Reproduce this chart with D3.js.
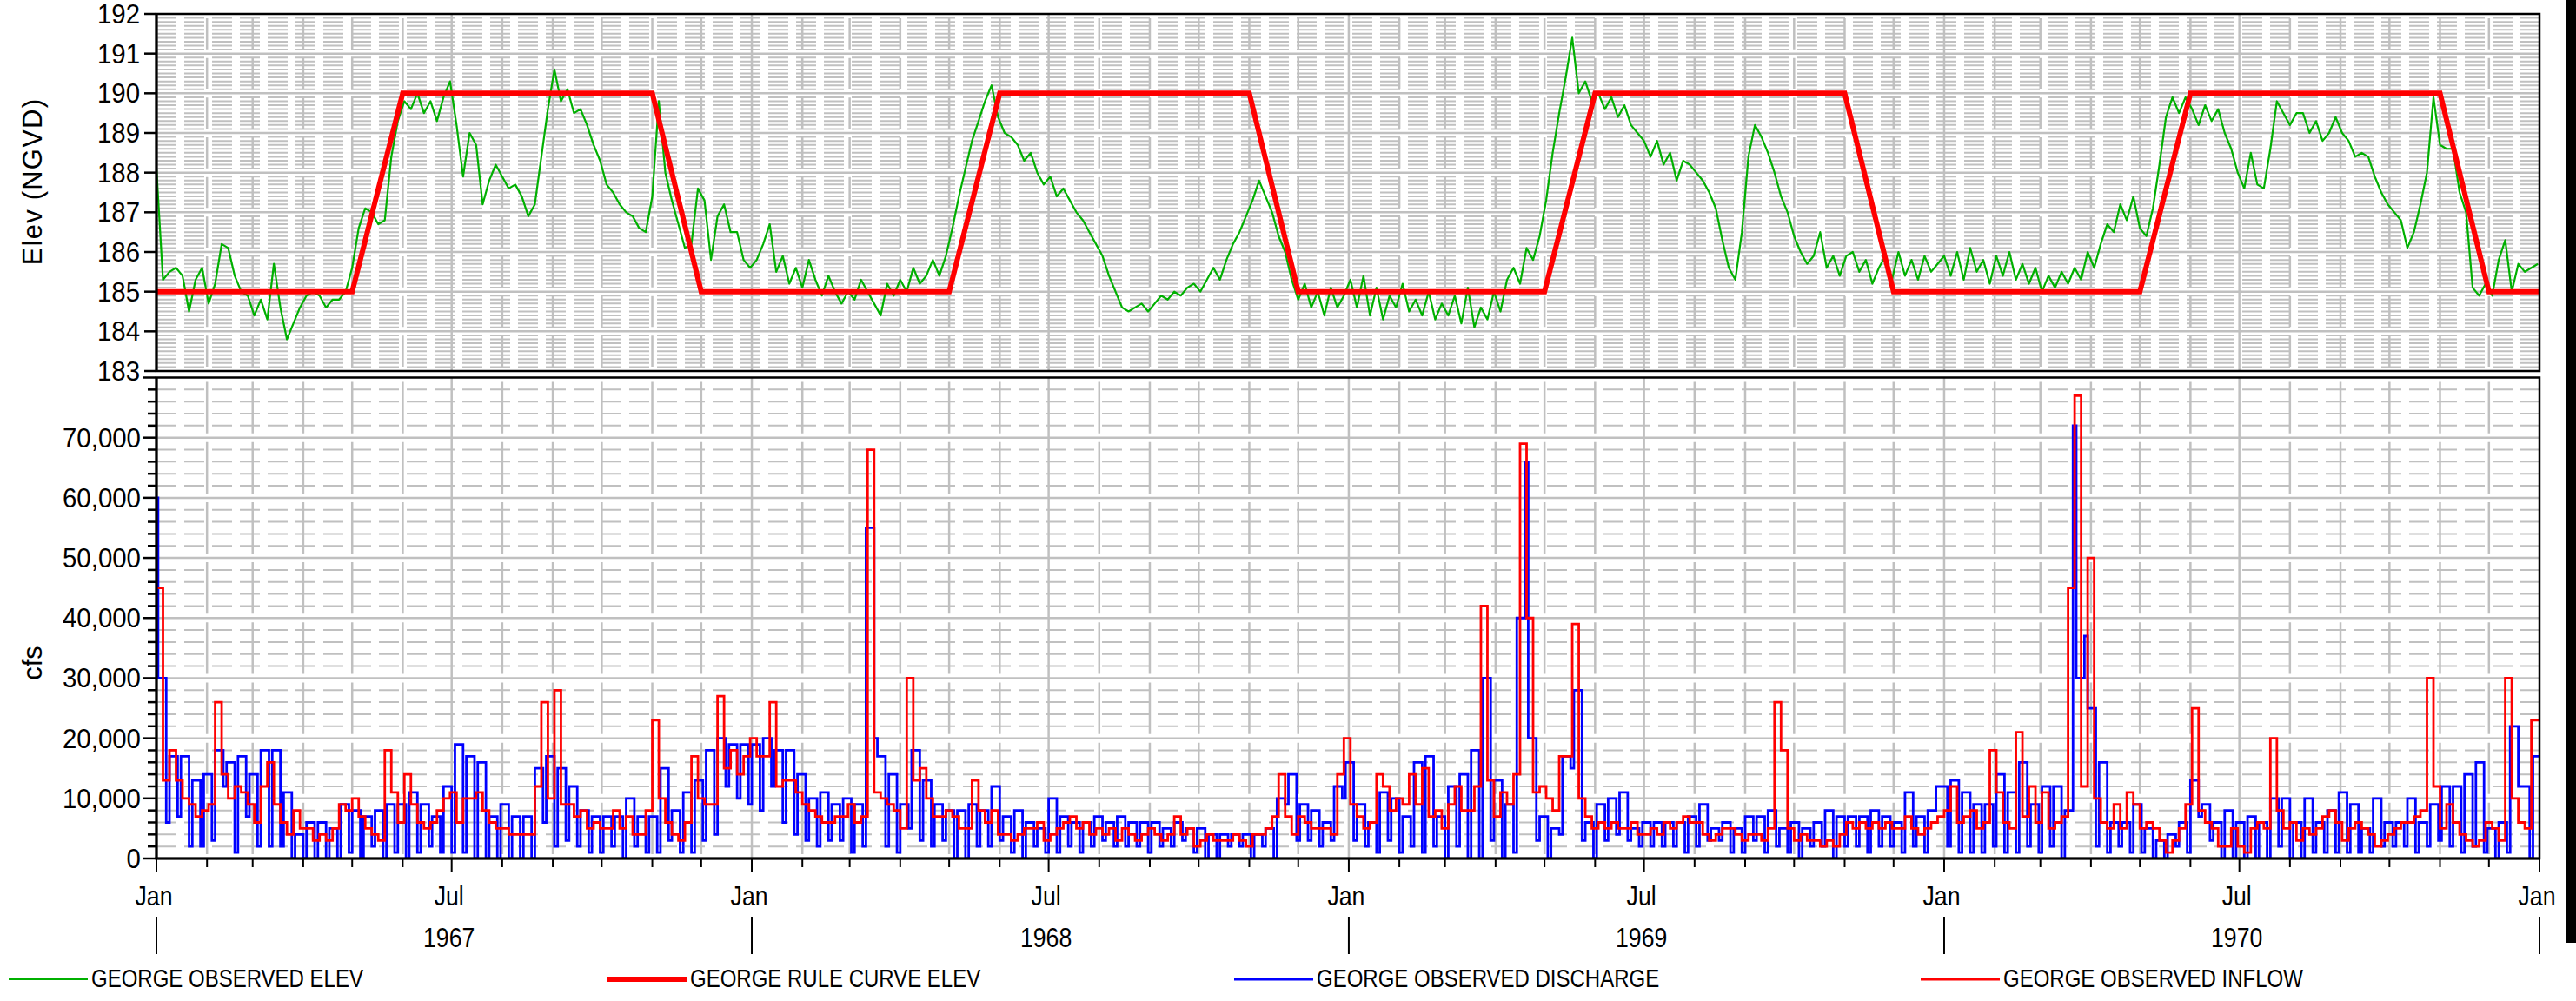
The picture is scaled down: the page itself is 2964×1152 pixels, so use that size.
<!DOCTYPE html>
<html>
<head>
<meta charset="utf-8">
<script src="https://cdn.jsdelivr.net/npm/d3@7"></script>
<style>
  html, body { margin: 0; padding: 0; background: #fff; }
  svg { display: block; }
  text { font-family: "Liberation Sans", Arial, sans-serif; fill: #000; }
</style>
</head>
<body>
<svg id="chart" width="2964" height="1152"></svg>
<script>
// ---- Reservoir elevation (ft NGVD), sampled every 4 days from 1967-01-01 ----
const elev1967 = [
  188.1, 185.3, 185.5, 185.6, 185.4, 184.5, 185.3, 185.6, 184.7, 185.2,
  186.2, 186.1, 185.4, 185.0, 184.9, 184.4, 184.8, 184.3, 185.7, 184.6,
  183.8, 184.2, 184.6, 184.9, 185.0, 184.9, 184.6, 184.8, 184.8, 185.0,
  185.6, 186.6, 187.1, 187.0, 186.7, 186.8, 188.4, 189.3, 189.8, 189.6,
  190.0, 189.5, 189.8, 189.3, 189.9, 190.3, 189.2, 187.9, 189.0, 188.7,
  187.2, 187.8, 188.2, 187.9, 187.6, 187.7, 187.4, 186.9, 187.2, 188.4,
  189.6, 190.6, 189.8, 190.1, 189.5, 189.6, 189.2, 188.7, 188.3, 187.7,
  187.5, 187.2, 187.0, 186.9, 186.6, 186.5, 187.4, 189.8, 188.0, 187.3,
  186.7, 186.1, 186.2, 187.6, 187.3, 185.8, 186.9, 187.2, 186.5, 186.5,
  185.8, 185.6
];
const elev1968 = [
  185.8, 186.2, 186.7, 185.5, 185.9, 185.2, 185.6, 185.1, 185.8, 185.3,
  184.9, 185.4, 185.0, 184.7, 185.0, 184.8, 185.3, 185.0, 184.7, 184.4,
  185.2, 184.9, 185.3, 185.0, 185.6, 185.2, 185.4, 185.8, 185.4, 185.9,
  186.6, 187.4, 188.1, 188.8, 189.3, 189.8, 190.2, 189.4, 189.0, 188.9,
  188.7, 188.3, 188.5, 188.0, 187.7, 187.9, 187.4, 187.6, 187.3, 187.0,
  186.8, 186.5, 186.2, 185.9, 185.4, 185.0, 184.6, 184.5, 184.6, 184.7,
  184.5, 184.7, 184.9, 184.8, 185.0, 184.9, 185.1, 185.2, 185.0, 185.3,
  185.6, 185.3, 185.8, 186.2, 186.5, 186.9, 187.3, 187.8, 187.4, 187.0,
  186.4, 186.0, 185.3, 184.8, 185.2, 184.6, 185.0, 184.4, 185.1, 184.6,
  184.9
];
const elev1969 = [
  185.3, 184.6, 185.4, 184.4, 185.1, 184.3, 184.9, 184.6, 185.2, 184.5,
  184.8, 184.4, 185.0, 184.3, 184.7, 184.4, 184.9, 184.2, 185.1, 184.1,
  184.6, 184.3, 185.0, 184.5, 185.3, 185.6, 185.2, 186.1, 185.8, 186.4,
  187.3, 188.5, 189.5, 190.4, 191.4, 190.0, 190.3, 189.8, 190.0, 189.6,
  189.9, 189.4, 189.7, 189.2, 189.0, 188.8, 188.4, 188.8, 188.2, 188.5,
  187.8, 188.3, 188.2, 188.0, 187.8, 187.5, 187.1, 186.3, 185.6, 185.3,
  186.5, 188.4, 189.2, 188.9, 188.5, 188.0, 187.4, 187.0, 186.4, 186.0,
  185.7, 185.9, 186.5, 185.6, 185.9, 185.4, 185.9, 186.0, 185.5, 185.8,
  185.2, 185.6, 185.9, 185.3, 186.0, 185.4, 185.8, 185.3, 185.9, 185.5,
  185.7
];
const elev1970 = [
  185.9, 185.4, 186.0, 185.3, 186.1, 185.5, 185.8, 185.2, 185.9, 185.4,
  186.0, 185.3, 185.7, 185.2, 185.6, 185.0, 185.4, 185.1, 185.5, 185.2,
  185.6, 185.3, 186.0, 185.6, 186.2, 186.7, 186.5, 187.2, 186.8, 187.4,
  186.6, 186.4, 187.1, 188.2, 189.4, 189.9, 189.5, 189.9, 189.6, 189.2,
  189.7, 189.3, 189.6, 189.0, 188.6, 188.0, 187.6, 188.5,
  187.7, 187.6, 188.6, 189.8, 189.5, 189.2, 189.5, 189.5, 189.0, 189.3,
  188.8, 189.0, 189.4, 189.0, 188.8, 188.4, 188.5, 188.4, 187.9, 187.5,
  187.2, 187.0, 186.8, 186.1, 186.5, 187.2, 188.0, 189.9, 188.7, 188.6,
  188.6, 187.5, 187.0, 185.1, 184.9, 185.2, 184.9, 185.8, 186.3, 185.0,
  185.7, 185.5, 185.6, 185.7
];
const elevStepDays = 4;

// ---- Rule curve breakpoints ----
const ruleDates = [
  "1967-01-01", "1967-05-01", "1967-06-01", "1967-11-01", "1967-12-01",
  "1968-05-01", "1968-06-01", "1968-11-01", "1968-12-01",
  "1969-05-01", "1969-06-01", "1969-11-01", "1969-12-01",
  "1970-05-01", "1970-06-01", "1970-11-01", "1970-12-01", "1971-01-01"
];
const ruleElev = [
  185, 185, 190, 190, 185,
  185, 190, 190, 185,
  185, 190, 190, 185,
  185, 190, 190, 185, 185
];

// ---- Observed inflow (cfs), 4-day steps from 1967-01-01 ----
const inflow1967 = [
  45000, 13000, 18000, 13000, 10000, 9000, 7000, 8000, 9000, 26000,
  14000, 10000, 12000, 11000, 9000, 6000, 12000, 16000, 9000, 6000,
  4000, 8000, 5000, 5000, 3000, 4000, 3000, 5000, 9000, 8000,
  10000, 7000, 5000, 4000, 3000, 18000, 11000, 6000, 14000, 9000,
  6000, 5000, 6000, 8000, 10000, 11000, 6000, 10000, 10000, 11000,
  8000, 6000, 5000, 5000, 4000, 4000, 4000, 4000, 12000, 26000,
  10000, 28000, 9000, 9000, 7000, 8000, 5000, 6000, 5000, 5000,
  8000, 5000, 7000, 4000, 4000, 8000, 23000, 10000, 6000, 4000,
  3000, 6000, 17000, 10000, 9000, 9000, 27000, 15000, 18000, 14000,
  17000, 20000
];
const inflow1968 = [
  17000, 17000, 26000, 12000, 13000, 13000, 11000, 9000, 8000, 7000,
  6000, 6000, 7000, 7000, 9000, 6000, 7000, 68000, 11000, 10000,
  9000, 8000, 5000, 30000, 13000, 15000, 10000, 7000, 7000, 8000,
  7000, 5000, 5000, 13000, 8000, 6000, 8000, 4000, 4000, 3000,
  4000, 5000, 5000, 6000, 3000, 4000, 5000, 6000, 7000, 5000,
  6000, 4000, 5000, 4000, 5000, 3000, 5000, 4000, 3000, 4000,
  5000, 4000, 3000, 4000, 7000, 4000, 5000, 2000, 3000, 4000,
  3000, 3000, 3000, 4000, 3000, 2000, 4000, 4000, 5000, 7000,
  14000, 7000, 4000, 7000, 6000, 5000, 5000, 5000, 4000, 14000,
  20000
];
const inflow1969 = [
  9000, 7000, 5000, 6000, 14000, 12000, 8000, 10000, 9000, 14000,
  9000, 15000, 7000, 8000, 5000, 9000, 12000, 8000, 8000, 12000,
  42000, 13000, 7000, 11000, 9000, 14000, 69000, 40000, 11000, 12000,
  10000, 8000, 17000, 17000, 39000, 10000, 7000, 5000, 6000, 5000,
  6000, 5000, 5000, 6000, 4000, 4000, 5000, 4000, 6000, 5000,
  6000, 7000, 6000, 6000, 4000, 3000, 4000, 5000, 5000, 4000,
  3000, 4000, 4000, 3000, 5000, 26000, 18000, 5000, 3000, 4000,
  3000, 3000, 2000, 3000, 2000, 4000, 6000, 5000, 6000, 5000,
  6000, 5000, 6000, 5000, 5000, 7000, 5000, 4000, 5000, 6000,
  7000
];
const inflow1970 = [
  8000, 12000, 6000, 7000, 8000, 5000, 6000, 18000, 11000, 6000,
  5000, 21000, 7000, 12000, 6000, 11000, 5000, 6000, 7000, 45000,
  77000, 12000, 50000, 10000, 6000, 5000, 9000, 5000, 11000, 9000,
  5000, 6000, 5000, 3000, 1000, 3000, 5000, 9000, 25000, 8000,
  6000, 5000, 2000, 2000, 5000, 2000, 1000, 5000, 6000, 5000,
  20000, 8000, 5000, 6000, 3000, 5000, 4000, 5000, 7000, 8000,
  6000, 3000, 5000, 6000, 5000, 4000, 2000, 3000, 4000, 5000,
  6000, 6000, 7000, 8000, 30000, 12000, 5000, 9000, 6000, 4000,
  3000, 2000, 3000, 6000, 5000, 3000, 30000, 10000, 6000, 5000,
  23000, 23000
];
const inflowStepDays = 4;

// ---- Observed discharge (cfs): release on weekdays (Mon-Fri) and weekends ----
const dischargeJan1 = 60000;
const dischargeWeekday1967 = [
  30000, 17000, 17000, 13000, 14000, 18000, 16000, 17000, 14000, 18000,
  18000, 11000, 4000, 6000, 6000, 5000, 9000, 8000, 7000, 8000,
  9000, 9000, 11000, 9000, 7000, 12000, 19000, 17000, 16000, 7000,
  9000, 7000, 7000, 15000, 17000, 15000, 12000, 8000, 7000, 7000,
  7000, 10000, 7000, 7000, 15000, 8000, 11000, 13000, 18000, 20000,
  19000, 19000
];
const dischargeWeekend1967 = [
  6000, 7000, 2000, 2000, 3000, 12000, 1000, 7000, 2000, 2000,
  2000, 0, 0, 0, 0, 0, 1000, 0, 2000, 0,
  1000, 0, 1000, 2000, 1000, 1000, 1000, 0, 0, 0,
  0, 0, 0, 6000, 2000, 3000, 2000, 1000, 1000, 2000,
  0, 2000, 1000, 1000, 3000, 1000, 1000, 3000, 4000, 12000,
  10000, 9000
];
const dischargeWeekday1968 = [
  19000, 20000, 18000, 18000, 14000, 10000, 11000, 9000, 10000, 9000,
  55000, 17000, 14000, 9000, 18000, 13000, 9000, 8000, 8000, 9000,
  8000, 12000, 7000, 8000, 6000, 5000, 10000, 7000, 6000, 6000,
  7000, 6000, 7000, 6000, 6000, 6000, 5000, 6000, 5000, 5000,
  4000, 4000, 4000, 4000, 4000, 5000, 10000, 14000, 9000, 8000,
  6000, 12000
];
const dischargeWeekend1968 = [
  8000, 12000, 6000, 4000, 3000, 2000, 3000, 3000, 1000, 2000,
  20000, 2000, 1000, 5000, 3000, 2000, 3000, 0, 0, 2000,
  2000, 3000, 1000, 0, 2000, 1000, 1000, 2000, 1000, 2000,
  3000, 2000, 2000, 2000, 1000, 2000, 2000, 3000, 1000, 0,
  0, 2000, 2000, 0, 2000, 0, 9000, 3000, 3000, 2000,
  3000, 10000
];
const dischargeWeekday1969 = [
  16000, 9000, 6000, 11000, 10000, 7000, 16000, 17000, 7000, 12000,
  14000, 18000, 30000, 13000, 9000, 40000, 20000, 7000, 5000, 17000,
  28000, 6000, 9000, 10000, 11000, 5000, 6000, 6000, 6000, 6000,
  7000, 9000, 5000, 6000, 5000, 7000, 7000, 8000, 5000, 6000,
  5000, 6000, 8000, 7000, 7000, 7000, 8000, 7000, 6000, 11000,
  7000, 8000
];
const dischargeWeekend1969 = [
  3000, 2000, 1000, 3000, 1000, 2000, 1000, 2000, 0, 2000,
  0, 0, 3000, 0, 1000, 66000, 3000, 0, 4000, 15000,
  3000, 0, 3000, 4000, 3000, 2000, 2000, 2000, 2000, 1000,
  2000, 3000, 3000, 1000, 1000, 3000, 1000, 2000, 1000, 0,
  2000, 2000, 0, 2000, 2000, 1000, 2000, 2000, 1000, 2000,
  1000, 12000
];
const dischargeWeekday1970 = [
  12000, 13000, 11000, 9000, 9000, 14000, 11000, 16000, 9000, 12000,
  12000, 8000, 30000, 25000, 16000, 6000, 6000, 9000, 5000, 3000,
  4000, 6000, 13000, 9000, 6000, 8000, 6000, 7000, 6000, 10000,
  10000, 6000, 10000, 6000, 8000, 11000, 9000, 5000, 10000, 6000,
  6000, 10000, 6000, 9000, 12000, 12000, 14000, 16000, 5000, 6000,
  22000, 12000, 17000
];
const dischargeWeekend1970 = [
  2000, 1000, 1000, 1000, 2000, 1000, 1000, 2000, 1000, 2000,
  0, 72000, 37000, 2000, 1000, 2000, 1000, 1000, 0, 0,
  2000, 1000, 7000, 3000, 0, 0, 0, 0, 0, 2000,
  0, 0, 1000, 1000, 1000, 1000, 1000, 1000, 2000, 2000,
  2000, 1000, 2000, 3000, 2000, 1000, 2000, 1000, 0, 1000,
  12000, 0, 17000
];

// ---- Axis labels ----
const elevTicks = [183, 184, 185, 186, 187, 188, 189, 190, 191, 192];
const flowTicks = [0, 10000, 20000, 30000, 40000, 50000, 60000, 70000];
const years = [1967, 1968, 1969, 1970];
const seriesNames = [
  "GEORGE OBSERVED ELEV",
  "GEORGE RULE CURVE ELEV",
  "GEORGE OBSERVED DISCHARGE",
  "GEORGE OBSERVED INFLOW"
];

// ---------------------------------------------------------------
const svg = d3.select("#chart");
const plotL = 180, plotR = 2922;
const topP = { y0: 16, y1: 427 };
const botP = { y0: 434.5, y1: 988 };
const GRID = "#c0c0c0";
const GREEN = "#00b000", RED = "#ff0000", BLUE = "#0000ff";

const DAY = 864e5;
const T0 = Date.UTC(1967, 0, 1);
const dayDate = d => new Date(T0 + d * DAY);
const start = new Date(T0), end = new Date(Date.UTC(1971, 0, 1));

const x = d3.scaleUtc().domain([start, end]).range([plotL, plotR]);
const yElev = d3.scaleLinear().domain([183, 192]).range([topP.y1, topP.y0]);
const yFlow = d3.scaleLinear().domain([0, 80000]).range([botP.y1, botP.y0]);

// assemble series
const elevation = [...elev1967, ...elev1968, ...elev1969, ...elev1970]
  .map((v, i) => ({ date: dayDate(i * elevStepDays), value: v }));
const rule = ruleDates.map((d, i) => ({ date: new Date(d + "T00:00:00Z"), value: ruleElev[i] }));
const inflowVals = [...inflow1967, ...inflow1968, ...inflow1969, ...inflow1970];
const inflow = inflowVals.map((v, i) => ({ date: dayDate(i * inflowStepDays), value: v }));
inflow.push({ date: end, value: inflowVals[inflowVals.length - 1] });
const wk = [...dischargeWeekday1967, ...dischargeWeekday1968, ...dischargeWeekday1969, ...dischargeWeekday1970];
const we = [...dischargeWeekend1967, ...dischargeWeekend1968, ...dischargeWeekend1969, ...dischargeWeekend1970];
const discharge = [{ date: start, value: dischargeJan1 }];
wk.forEach((v, w) => {
  discharge.push({ date: dayDate(1 + 7 * w), value: v });
  discharge.push({ date: dayDate(6 + 7 * w), value: we[w] });
});
discharge.push({ date: dayDate(1 + 7 * wk.length), value: we[we.length - 1] });

// clip paths
const defs = svg.append("defs");
defs.append("clipPath").attr("id", "clipTop").append("rect")
  .attr("x", plotL).attr("y", topP.y0).attr("width", plotR - plotL).attr("height", topP.y1 - topP.y0);
defs.append("clipPath").attr("id", "clipBot").append("rect")
  .attr("x", plotL).attr("y", botP.y0).attr("width", plotR - plotL).attr("height", botP.y1 - botP.y0);

const months = d3.utcMonth.range(start, end);
const majorMonth = d => d.getUTCMonth() === 0 || d.getUTCMonth() === 6;

// ---------------- grids ----------------
function drawGrid(g, y, minorVals, majorVals, majorStep, p) {
  // minor horizontal (dashed)
  g.selectAll("line.hmin").data(minorVals).join("line")
    .attr("x1", plotL).attr("x2", plotR)
    .attr("y1", d => y(d)).attr("y2", d => y(d))
    .attr("stroke", GRID).attr("stroke-width", 2).attr("stroke-dasharray", "23,9");
  // minor vertical (dashed, gaps centred on major horizontal lines)
  const period = Math.abs(y(majorStep) - y(0));
  const gap = 10;
  g.selectAll("line.vmin").data(months.filter(d => !majorMonth(d))).join("line")
    .attr("x1", d => x(d)).attr("x2", d => x(d))
    .attr("y1", p.y0).attr("y2", p.y1)
    .attr("stroke", GRID).attr("stroke-width", 2.5)
    .attr("stroke-dasharray", `${period - gap},${gap}`)
    .attr("stroke-dashoffset", period - gap / 2);
  // major vertical
  g.selectAll("line.vmaj").data(months.filter(majorMonth)).join("line")
    .attr("x1", d => x(d)).attr("x2", d => x(d))
    .attr("y1", p.y0).attr("y2", p.y1)
    .attr("stroke", GRID).attr("stroke-width", 2.5);
  // major horizontal
  g.selectAll("line.hmaj").data(majorVals).join("line")
    .attr("x1", plotL).attr("x2", plotR)
    .attr("y1", d => y(d)).attr("y2", d => y(d))
    .attr("stroke", GRID).attr("stroke-width", 2.5);
}

const gTopGrid = svg.append("g");
drawGrid(gTopGrid, yElev,
  d3.range(1, 90).filter(k => k % 10 !== 0).map(k => 183 + k / 10),
  d3.range(184, 192), 1, topP);
const gBotGrid = svg.append("g");
drawGrid(gBotGrid, yFlow,
  d3.range(1, 40).filter(k => k % 5 !== 0).map(k => k * 2000),
  d3.range(10000, 80000, 10000), 10000, botP);

// ---------------- series ----------------
const lineElev = d3.line().x(d => x(d.date)).y(d => yElev(d.value));
const lineFlow = d3.line().x(d => x(d.date)).y(d => yFlow(d.value)).curve(d3.curveStepAfter);

const gTop = svg.append("g").attr("clip-path", "url(#clipTop)");
gTop.append("path").datum(elevation).attr("d", lineElev)
  .attr("fill", "none").attr("stroke", GREEN).attr("stroke-width", 2.2).attr("stroke-linejoin", "round");
gTop.append("path").datum(rule).attr("d", lineElev)
  .attr("fill", "none").attr("stroke", RED).attr("stroke-width", 6).attr("stroke-linejoin", "miter");

const gBot = svg.append("g").attr("clip-path", "url(#clipBot)");
gBot.append("path").datum(discharge).attr("d", lineFlow)
  .attr("fill", "none").attr("stroke", BLUE).attr("stroke-width", 2.8);
gBot.append("path").datum(inflow).attr("d", lineFlow)
  .attr("fill", "none").attr("stroke", RED).attr("stroke-width", 2.8);

// ---------------- frames & axes ----------------
[topP, botP].forEach(p => {
  svg.append("rect").attr("x", plotL).attr("y", p.y0)
    .attr("width", plotR - plotL).attr("height", p.y1 - p.y0)
    .attr("fill", "none").attr("stroke", "#000").attr("stroke-width", 2.5);
  svg.append("line").attr("x1", plotL).attr("x2", plotL).attr("y1", p.y0).attr("y2", p.y1)
    .attr("stroke", "#000").attr("stroke-width", 3);
});
svg.append("line").attr("x1", plotL - 1.5).attr("x2", plotR).attr("y1", botP.y1).attr("y2", botP.y1)
  .attr("stroke", "#000").attr("stroke-width", 3);

function label(txt, tx, ty, anchor, size, sx) {
  return svg.append("text")
    .attr("transform", `translate(${tx},${ty}) scale(${sx},1)`)
    .attr("text-anchor", anchor).attr("font-size", size).text(txt);
}

// elevation axis
elevTicks.forEach(v => {
  svg.append("line").attr("x1", plotL - 14).attr("x2", plotL).attr("y1", yElev(v)).attr("y2", yElev(v))
    .attr("stroke", "#000").attr("stroke-width", 2.5);
  label(String(v), 161, yElev(v) + 11, "end", 31, 0.95);
});
// flow axis
d3.range(0, 80001, 2000).forEach(v => {
  const major = v % 10000 === 0;
  svg.append("line").attr("x1", plotL - (major ? 15 : 10)).attr("x2", plotL)
    .attr("y1", yFlow(v)).attr("y2", yFlow(v))
    .attr("stroke", "#000").attr("stroke-width", 2.5);
});
const fmt = d3.format(",");
flowTicks.forEach(v => {
  label(fmt(v), 162, yFlow(v) + 11, "end", 31, 0.95);
});

// axis titles
svg.append("text").attr("transform", `translate(48,209) rotate(-90)`)
  .attr("text-anchor", "middle").attr("font-size", 31).attr("letter-spacing", 1.2).text("Elev (NGVD)");
svg.append("text").attr("transform", `translate(48,763) rotate(-90)`)
  .attr("text-anchor", "middle").attr("font-size", 31).text("cfs");

// time axis
months.concat([end]).forEach(d => {
  const major = majorMonth(d);
  svg.append("line").attr("x1", x(d)).attr("x2", x(d)).attr("y1", botP.y1).attr("y2", botP.y1 + (major ? 15 : 10))
    .attr("stroke", "#000").attr("stroke-width", 2);
  if (major) {
    label(d.getUTCMonth() === 0 ? "Jan" : "Jul", x(d) - 3, 1042, "middle", 31, 0.86);
  }
});
years.forEach(yr => {
  const jul = new Date(Date.UTC(yr, 6, 1));
  label(String(yr), x(jul) - 3, 1090, "middle", 31, 0.86);
});
years.concat([1971]).forEach(yr => {
  const jan = new Date(Date.UTC(yr, 0, 1));
  svg.append("line").attr("x1", x(jan)).attr("x2", x(jan)).attr("y1", 1055).attr("y2", 1098)
    .attr("stroke", "#000").attr("stroke-width", 2);
});

// ---------------- legend ----------------
const legendX = [10, 699, 1420, 2210];
const legendColor = [GREEN, RED, BLUE, RED];
const legendWidth = [2.2, 6, 2.8, 2.8];
seriesNames.forEach((name, i) => {
  svg.append("line").attr("x1", legendX[i]).attr("x2", legendX[i] + 91)
    .attr("y1", 1127).attr("y2", 1127)
    .attr("stroke", legendColor[i]).attr("stroke-width", legendWidth[i]);
  label(name, legendX[i] + 95, 1136, "start", 30, 0.8);
});

// right-hand frame edge
svg.append("rect").attr("x", 2953).attr("y", 0).attr("width", 11).attr("height", 1085).attr("fill", "#000");
</script>
</body>
</html>
